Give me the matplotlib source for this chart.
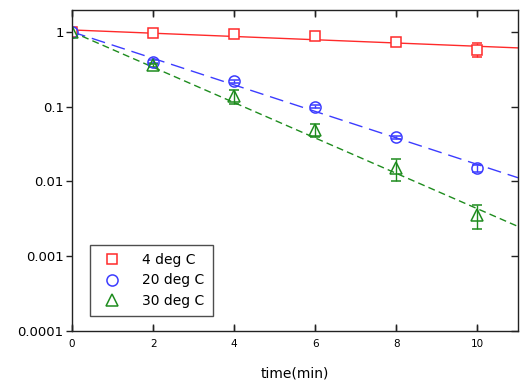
import matplotlib
matplotlib.use('Agg')
import matplotlib.pyplot as plt
from matplotlib import lines as mlines

# measured points
time_min = [0, 2, 4, 6, 8, 10]
c4 = [1.0, 0.97, 0.94, 0.88, 0.74, 0.58]
c4_err = [0.03, 0.03, 0.03, 0.03, 0.05, 0.12]
c20 = [1.0, 0.40, 0.217, 0.100, 0.039, 0.015]
c20_err = [0.02, 0.015, 0.01, 0.004, 0.002, 0.0017]
c30 = [1.0, 0.355, 0.137, 0.049, 0.015, 0.0036]
c30_err = [0.02, 0.02, 0.03, 0.010, 0.005, 0.0013]

# fitted exponential lines (straight on log axis, given by end points)
fit_t = [0, 11]
fit4 = [1.06, 0.61]
fit20 = [1.0, 0.0112]
fit30 = [1.0, 0.0025]

x_ticks = [0, 2, 4, 6, 8, 10]
y_ticks = [1e-4, 1e-3, 1e-2, 1e-1, 1]
y_ticklabels = ['0.0001', '0.001', '0.01', '0.1', '1']
legend_labels = ['4 deg C', '20 deg C', '30 deg C']

red = '#ff2a2a'
blue = '#3c3cff'
green = '#1e8c1e'
ink = '#222222'

fig = plt.figure(figsize=(5.31, 3.84), dpi=100)
ax = fig.add_axes([0.1356, 0.138, 0.8399, 0.836])

ax.plot(fit_t, fit4, color=red, lw=1.0, ls='-')
ax.plot(fit_t, fit20, color=blue, lw=1.0, ls=(0, (10, 5)))
ax.plot(fit_t, fit30, color=green, lw=1.0, ls=(0, (5, 3)))

h4 = ax.errorbar(time_min, c4, yerr=c4_err, fmt='s', ms=7, mfc='white', mec=red,
                 ecolor=red, elinewidth=1, capsize=3.5, mew=1.1, label=legend_labels[0])
h20 = ax.errorbar(time_min, c20, yerr=c20_err, fmt='o', ms=8, mfc='none', mec=blue,
                  ecolor=blue, elinewidth=1, capsize=3.5, mew=1.1, label=legend_labels[1])
h30 = ax.errorbar(time_min, c30, yerr=c30_err, fmt='^', ms=8, mfc='none', mec=green,
                  ecolor=green, elinewidth=1, capsize=3.5, mew=1.1, label=legend_labels[2])

ax.set_yscale('log')
ax.set_xlim(0, 11)
ax.set_ylim(1e-4, 1.96)
ax.set_yticks(y_ticks)
ax.set_yticklabels(y_ticklabels)
ax.minorticks_off()
ax.set_xticks(x_ticks)

ax.tick_params(axis='y', which='major', direction='out', length=4, width=1,
               labelsize=9.5, pad=2, color=ink, left=True, right=True)
ax.tick_params(axis='x', which='major', direction='in', length=5, width=1,
               labelsize=7.5, pad=6, color=ink, bottom=True, top=True)
# right side ticks point inward, left side stays outward
for t in ax.yaxis.get_major_ticks():
    t.tick2line.set_marker(mlines.TICKLEFT)
    t.tick2line.set_markersize(5)
    t.tick2line.set_markeredgewidth(1.0)

# inward x ticks on bottom and top, drawn as short segments in axis coords
xt = ax.get_xaxis_transform()
ax.vlines(x_ticks, 0, 0.018, transform=xt, colors=ink, lw=1.0, clip_on=False, zorder=3)
ax.vlines(x_ticks, 0.982, 1, transform=xt, colors=ink, lw=1.0, clip_on=False, zorder=3)

for s in ax.spines.values():
    s.set_linewidth(1.0)
    s.set_color(ink)

ax.set_xlabel('time(min)', fontsize=10, labelpad=12)

leg = ax.legend(handles=[h4[0], h20[0], h30[0]], labels=legend_labels,
                loc='lower left', bbox_to_anchor=(0.024, 0.025), fontsize=10,
                frameon=True, fancybox=False, edgecolor=ink,
                handletextpad=1.2, borderpad=0.6, labelspacing=0.45, handlelength=2.0)
leg.get_frame().set_linewidth(1.0)

fig.savefig('out.png', dpi=100)
